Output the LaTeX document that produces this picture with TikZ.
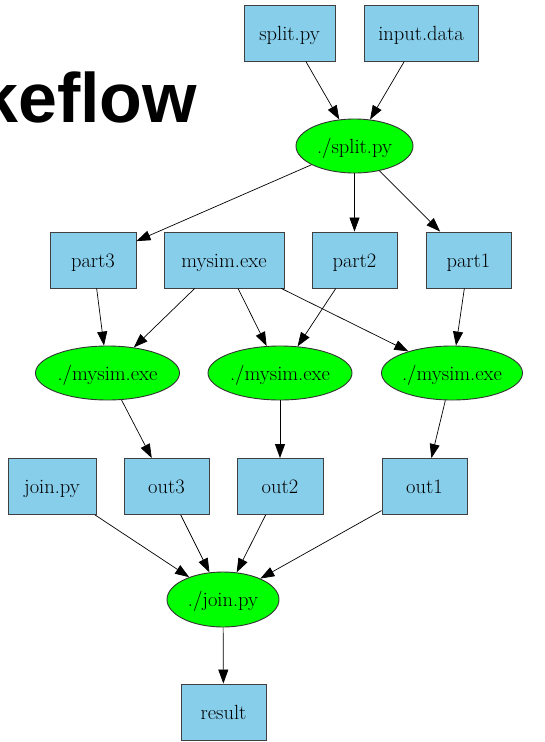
\documentclass[tikz,border=0pt]{standalone}
\usepackage{fontspec}
\newfontfamily\titlefont{Liberation Sans}
\usetikzlibrary{shapes.geometric,arrows.meta}

\definecolor{fileblue}{HTML}{87CEEB}
\definecolor{procgreen}{HTML}{00FF00}

\begin{document}
\begin{tikzpicture}[x=1pt,y=-1pt,
  labelfont/.style={font=\rmfamily\fontsize{20.5}{20.5}\selectfont, text height=14pt, text depth=0pt},
  file/.style={rectangle, draw=black!75, fill=fileblue, line width=0.9pt,
    minimum height=56pt, inner sep=0pt, labelfont},
  proc/.style={ellipse, draw=black!80, fill=procgreen, line width=0.9pt,
    minimum height=54pt, inner sep=-8pt, labelfont},
  flow/.style={draw=black, line width=0.7pt, -{Triangle[length=14pt,width=10pt]}}]

\useasboundingbox (0,0) rectangle (544,742);
\clip (0,0) rectangle (544,742);

% slide title, running off the left edge
\node[anchor=base west, inner sep=0pt,
  font=\titlefont\bfseries\fontsize{70}{70}\selectfont] (title) at (-21,122) {keflow};

% inputs and splitting step
\node[file, minimum width=91pt]  (splitpy)   at (289.5,33) {split.py};
\node[file, minimum width=114pt] (inputdata) at (421,33)   {input.data};
\node[proc, minimum width=117pt] (split)     at (354.5,146) {./split.py};

% parts and simulator
\node[file, minimum width=86pt]  (part3)  at (93,260)    {part3};
\node[file, minimum width=120pt] (mysim)  at (224,260)   {mysim.exe};
\node[file, minimum width=85pt]  (part2)  at (354.5,260) {part2};
\node[file, minimum width=85pt]  (part1)  at (468.5,260) {part1};

% simulation runs
\node[proc, minimum width=144pt] (sim3) at (107.5,373) {./mysim.exe};
\node[proc, minimum width=144pt] (sim2) at (280,373)   {./mysim.exe};
\node[proc, minimum width=141pt] (sim1) at (452,373)   {./mysim.exe};

% outputs and joining step
\node[file, minimum width=88pt] (joinpy) at (52,486.5)    {join.py};
\node[file, minimum width=85pt] (out3)   at (166.5,486.5) {out3};
\node[file, minimum width=86pt] (out2)   at (280,486.5)   {out2};
\node[file, minimum width=85pt] (out1)   at (424.5,486.5) {out1};
\node[proc, minimum width=112pt, minimum height=55pt] (join) at (223,599.5) {./join.py};
\node[file, minimum width=85pt] (result) at (223.5,712) {result};

% dependencies
\draw[flow] (splitpy) -- (split);
\draw[flow] (inputdata) -- (split);
\draw[flow] (split) -- (part3);
\draw[flow] (split) -- (part2);
\draw[flow] (split) -- (part1);
\draw[flow] (part3) -- (sim3);
\draw[flow] (mysim) -- (sim3);
\draw[flow] (mysim) -- (sim2);
\draw[flow] (mysim) -- (sim1);
\draw[flow] (part2) -- (sim2);
\draw[flow] (part1) -- (sim1);
\draw[flow] (sim3) -- (out3);
\draw[flow] (sim2) -- (out2);
\draw[flow] (sim1) -- (out1);
\draw[flow] (joinpy) -- (join);
\draw[flow] (out3) -- (join);
\draw[flow] (out2) -- (join);
\draw[flow] (out1) -- (join);
\draw[flow] (join) -- (result);
\end{tikzpicture}
\end{document}
